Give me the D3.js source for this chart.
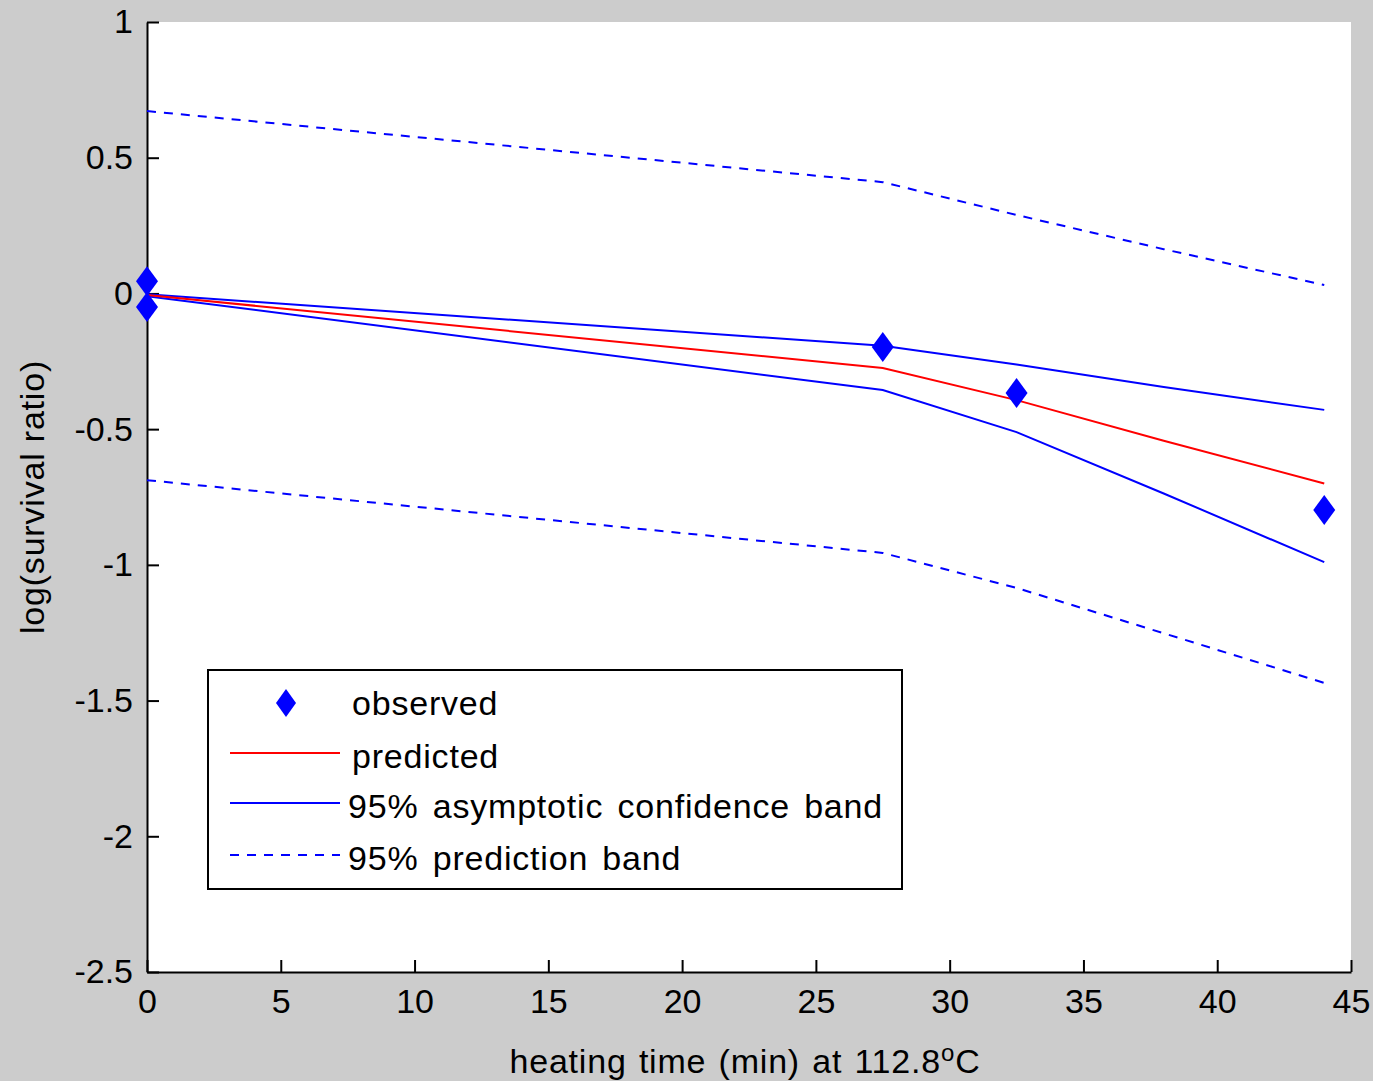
<!DOCTYPE html>
<html>
<head>
<meta charset="utf-8">
<script src="https://cdn.jsdelivr.net/npm/d3@7"></script>
<style>
  html, body { margin: 0; padding: 0; background: #cccccc; }
  svg { display: block; }
  text { font-family: Arial, "Liberation Sans", sans-serif; fill: #000; }
</style>
</head>
<body>
<svg id="chart" width="1373" height="1081"></svg>
<script>
// ---- data ----
const obsTime = [0, 0, 27.5, 32.5, 44];
const obsLog = [0.045, -0.050, -0.197, -0.367, -0.798];

const fitTime = [0, 27.5, 32.5, 38, 44];
const predicted = [-0.006, -0.275, -0.393, -0.543, -0.700];
const confUpper = [-0.003, -0.193, -0.262, -0.345, -0.429];
const confLower = [-0.010, -0.356, -0.511, -0.737, -0.990];
const predUpper = [0.672, 0.410, 0.289, 0.163, 0.031];
const predLower = [-0.688, -0.956, -1.085, -1.252, -1.435];

const xTicks = [0, 5, 10, 15, 20, 25, 30, 35, 40, 45];
const yTicks = [1, 0.5, 0, -0.5, -1, -1.5, -2, -2.5];
const yTickLabels = ["1", "0.5", "0", "-0.5", "-1", "-1.5", "-2", "-2.5"];

const legendLabels = ["observed", "predicted", "95% asymptotic confidence band", "95% prediction band"];

// ---- layout ----
const svg = d3.select("#chart");
const plot = { left: 147, right: 1351, top: 22, bottom: 972 };
const x = d3.scaleLinear().domain([0, 45]).range([plot.left, plot.right]);
const y = d3.scaleLinear().domain([-2.5, 1]).range([plot.bottom, plot.top]);

svg.append("rect").attr("width", 1373).attr("height", 1081).attr("fill", "#cccccc");
svg.append("rect")
  .attr("x", plot.left).attr("y", plot.top)
  .attr("width", plot.right - plot.left).attr("height", plot.bottom - plot.top)
  .attr("fill", "#ffffff");

// axes
const fs = 34;
const xAxis = d3.axisBottom(x).tickValues(xTicks).tickFormat(d3.format("d"))
  .tickSizeInner(-12).tickSizeOuter(0).tickPadding(17);
const gx = svg.append("g").attr("transform", `translate(0,${plot.bottom})`).call(xAxis);
gx.select(".domain").attr("stroke", "#000").attr("stroke-width", 2);
gx.selectAll(".tick line").attr("stroke", "#000").attr("stroke-width", 2);
gx.selectAll(".tick text").attr("font-size", fs).attr("font-family", "Arial, 'Liberation Sans', sans-serif")
  .attr("fill", "#000").attr("dy", "0.72em");

const yAxis = d3.axisLeft(y).tickValues(yTicks).tickFormat((d, i) => yTickLabels[i])
  .tickSizeInner(-12).tickSizeOuter(0).tickPadding(14);
const gy = svg.append("g").attr("transform", `translate(${plot.left},0)`).call(yAxis);
gy.select(".domain").attr("stroke", "#000").attr("stroke-width", 2);
gy.selectAll(".tick line").attr("stroke", "#000").attr("stroke-width", 2);
gy.selectAll(".tick text").attr("font-size", fs).attr("font-family", "Arial, 'Liberation Sans', sans-serif")
  .attr("fill", "#000");

// axis labels
const xl = svg.append("text")
  .attr("x", 745).attr("y", 1073)
  .attr("text-anchor", "middle").attr("font-size", fs)
  .attr("letter-spacing", 0.8).attr("word-spacing", 2);
xl.append("tspan").text("heating time (min) at 112.8");
xl.append("tspan").attr("dy", -12).attr("font-size", 24).text("o");
xl.append("tspan").attr("dy", 12).text("C");

svg.append("text")
  .attr("transform", `translate(44,${(plot.top + plot.bottom) / 2}) rotate(-90)`)
  .attr("text-anchor", "middle").attr("font-size", fs)
  .attr("letter-spacing", 0.8)
  .text("log(survival ratio)");

// lines
const line = d3.line().x(d => x(d[0])).y(d => y(d[1]));
const series = [
  { vals: predUpper, color: "#0000ff", dash: "9,8" },
  { vals: predLower, color: "#0000ff", dash: "9,8" },
  { vals: confUpper, color: "#0000ff", dash: null },
  { vals: confLower, color: "#0000ff", dash: null },
  { vals: predicted, color: "#ff0000", dash: null }
];
series.forEach(s => {
  svg.append("path")
    .datum(fitTime.map((t, i) => [t, s.vals[i]]))
    .attr("d", line)
    .attr("fill", "none")
    .attr("stroke", s.color)
    .attr("stroke-width", 2)
    .attr("stroke-dasharray", s.dash);
});

// diamond markers
const diamond = (cx, cy, w, h) => `M${cx},${cy - h / 2}L${cx + w / 2},${cy}L${cx},${cy + h / 2}L${cx - w / 2},${cy}Z`;
svg.append("g").selectAll("path")
  .data(obsTime.map((t, i) => [t, obsLog[i]]))
  .join("path")
  .attr("d", d => diamond(x(d[0]), y(d[1]), 22, 30))
  .attr("fill", "#0000ff");

// legend
const lg = svg.append("g");
lg.append("rect").attr("x", 208).attr("y", 670).attr("width", 694).attr("height", 219)
  .attr("fill", "#ffffff").attr("stroke", "#000").attr("stroke-width", 2);
const rowsY = [703, 756, 806, 858];
lg.append("path").attr("d", diamond(286, rowsY[0], 20, 28)).attr("fill", "#0000ff");
lg.append("line").attr("x1", 230).attr("x2", 340).attr("y1", rowsY[1] - 3).attr("y2", rowsY[1] - 3)
  .attr("stroke", "#ff0000").attr("stroke-width", 2);
lg.append("line").attr("x1", 230).attr("x2", 340).attr("y1", rowsY[2] - 3).attr("y2", rowsY[2] - 3)
  .attr("stroke", "#0000ff").attr("stroke-width", 2);
lg.append("line").attr("x1", 230).attr("x2", 340).attr("y1", rowsY[3] - 3).attr("y2", rowsY[3] - 3)
  .attr("stroke", "#0000ff").attr("stroke-width", 2).attr("stroke-dasharray", "9,8");
legendLabels.forEach((t, i) => {
  lg.append("text").attr("x", i < 2 ? 352 : 348).attr("y", rowsY[i]).attr("dy", "0.35em")
    .attr("font-size", fs).attr("letter-spacing", 0.8).attr("word-spacing", 4).text(t);
});
</script>
</body>
</html>
